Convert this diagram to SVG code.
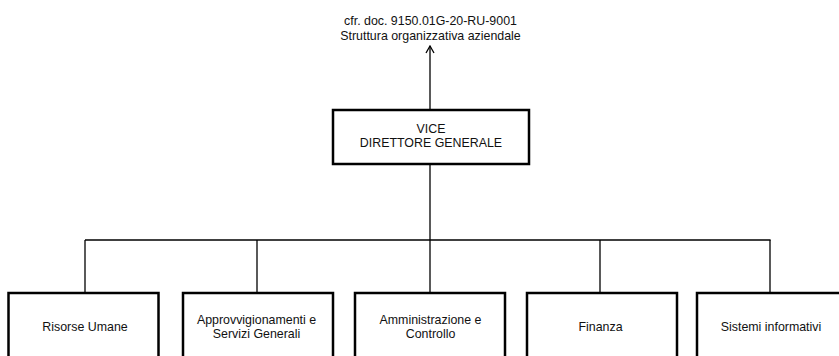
<svg xmlns="http://www.w3.org/2000/svg" width="839" height="356" viewBox="0 0 839 356">
  <defs>
    <!-- open V arrowhead, drawn along +x so orient="auto" follows the line -->
    <marker id="open-arrow" viewBox="0 0 10 10" refX="9" refY="5" markerWidth="10" markerHeight="10" markerUnits="userSpaceOnUse" orient="auto">
      <path d="M2,1 L9,5 L2,9" fill="none" stroke="#000" stroke-width="1.3"/>
    </marker>
  </defs>
  <style>
    .box { fill: #fff; stroke: #000; stroke-width: 2.5; }
    .link { fill: none; stroke: #000; stroke-width: 1.3; }
    text { font-family: "Liberation Sans", Arial, sans-serif; fill: #111; text-anchor: middle; font-size: 12.4px; }
  </style>
  <rect width="839" height="356" fill="#fff"/>

  <!-- reference note above the head office -->
  <g id="ref-note">
    <text x="430.5" y="24.5">cfr. doc. 9150.01G-20-RU-9001</text>
    <text x="430.5" y="39.5">Struttura organizzativa aziendale</text>
  </g>

  <!-- connectors -->
  <g id="connectors">
    <line class="link" x1="430" y1="110" x2="430" y2="46" marker-end="url(#open-arrow)"/>
    <line class="link" x1="430" y1="164" x2="430" y2="240"/>
    <line class="link" x1="85" y1="240" x2="770.6" y2="240"/>
    <line class="link" x1="85" y1="240" x2="85" y2="293"/>
    <line class="link" x1="257" y1="240" x2="257" y2="293"/>
    <line class="link" x1="430" y1="240" x2="430" y2="293"/>
    <line class="link" x1="600" y1="240" x2="600" y2="293"/>
    <line class="link" x1="770" y1="240" x2="770" y2="293"/>
  </g>

  <g id="vice-direttore">
    <rect class="box" x="333" y="110" width="196" height="54"/>
    <text x="431" y="132.5">VICE</text>
    <text x="431" y="147">DIRETTORE GENERALE</text>
  </g>

  <g id="risorse-umane">
    <rect class="box" x="8.5" y="293" width="150" height="80"/>
    <text x="85" y="330.5">Risorse Umane</text>
  </g>

  <g id="approvvigionamenti">
    <rect class="box" x="183" y="293" width="150" height="80"/>
    <text x="256.5" y="324">Approvvigionamenti e</text>
    <text x="256.5" y="338">Servizi Generali</text>
  </g>

  <g id="amministrazione">
    <rect class="box" x="355" y="293" width="150" height="80"/>
    <text x="430.5" y="324">Amministrazione e</text>
    <text x="430.5" y="338">Controllo</text>
  </g>

  <g id="finanza">
    <rect class="box" x="527" y="293" width="150" height="80"/>
    <text x="600.5" y="330.5">Finanza</text>
  </g>

  <g id="sistemi-informativi">
    <rect class="box" x="697" y="293" width="150" height="80"/>
    <text x="771" y="330.5">Sistemi informativi</text>
  </g>
</svg>
